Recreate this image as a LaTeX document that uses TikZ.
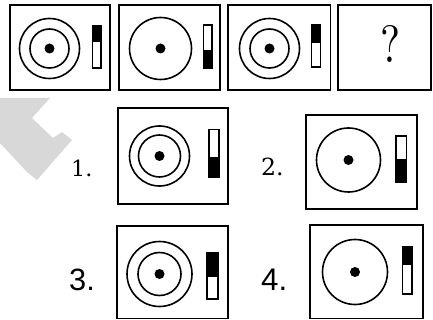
\documentclass[tikz,border=0pt]{standalone}
\usepackage{fontspec}
\usepackage{graphicx}
\newfontfamily\arialf{Liberation Sans}
\newfontfamily\serifd{DejaVu Serif}
\definecolor{wm}{RGB}{216,216,216}
\tikzset{
  frame/.style={draw=black, line width=1.7pt, fill=white},
  ring/.style={draw=black, line width=1.6pt},
  barbox/.style={draw=black, line width=1.4pt},
  lbl/.style={inner sep=0pt, anchor=base west},
}
% \dial{cx}{cy}{R}{r or 0}
\newcommand\dial[4]{%
  \draw[ring] (#1,#2) circle (#3);
  \ifdim #4pt>0pt
    \draw[ring] (#1,#2) circle (#4);
  \fi
  \fill (#1,#2) circle (5);
}
\newcommand\slidertop[5]{%
  \fill (#1,#2) rectangle (#3,#5);
  \draw[barbox] (#1,#2) rectangle (#3,#4);
}
\newcommand\sliderbot[5]{%
  \fill (#1,#5) rectangle (#3,#4);
  \draw[barbox] (#1,#2) rectangle (#3,#4);
}
\begin{document}
\begin{tikzpicture}[x=1pt,y=-1pt]
\useasboundingbox (0,0) rectangle (433,320);
% watermark
\fill[wm] (0,98) -- (50,98) -- (32,118) -- (53,138) -- (62,132) -- (72,140)
  -- (37,180) -- (27,172) -- (0,143) -- cycle;

% ---- top row ----
\node[frame, minimum width=100pt, minimum height=85pt, inner sep=0pt] (t1) at (60,47.5) {};
\dial{49.5}{48.5}{30}{19.5}
\slidertop{92.5}{25.5}{101}{68}{42.5}

\node[frame, minimum width=101pt, minimum height=85pt, inner sep=0pt] (t2) at (169.5,47.5) {};
\dial{160.5}{48.5}{31}{0}
\sliderbot{203.5}{25}{212}{68}{50.5}

\node[frame, minimum width=102.5pt, minimum height=85pt, inner sep=0pt] (t3) at (279.25,47.5) {};
\dial{269.5}{48.5}{30}{19.5}
\slidertop{311.5}{24.5}{320.5}{67}{43}

\node[frame, minimum width=93pt, minimum height=85pt, inner sep=0pt] (t4) at (384.5,47.5) {};
\node[inner sep=0pt] (q) at (390,43.5) {\resizebox{20pt}{37pt}{?}};

% ---- options ----
\node[lbl] (l1) at (71,176.5) {\resizebox{!}{16.5pt}{\serifd 1.}};
\node[frame, minimum width=110pt, minimum height=96pt, inner sep=0pt] (o1) at (173,156) {};
\dial{159.5}{156}{30}{21}
\sliderbot{209}{129.5}{219}{177}{157}

\node[lbl] (l2) at (261,176) {\resizebox{!}{17.5pt}{\serifd 2.}};
\node[frame, minimum width=111pt, minimum height=94pt, inner sep=0pt] (o2) at (361.5,162) {};
\dial{348.5}{160}{32}{0}
\sliderbot{396}{136}{406.5}{182}{159}

\node[lbl] (l3) at (69,290) {\resizebox{!}{21.5pt}{\arialf 3.}};
\node[frame, minimum width=111pt, minimum height=92.5pt, inner sep=0pt] (o3) at (172.5,272.25) {};
\dial{159.5}{274}{32.5}{21.5}
\slidertop{207}{252.5}{218}{299}{277}

\node[lbl] (l4) at (261,290) {\resizebox{!}{21.5pt}{\arialf 4.}};
\node[frame, minimum width=113pt, minimum height=93.5pt, inner sep=0pt] (o4) at (366.5,271.75) {};
\dial{355}{272}{32.5}{0}
\slidertop{402.5}{247}{412}{294}{265}
\end{tikzpicture}
\end{document}
